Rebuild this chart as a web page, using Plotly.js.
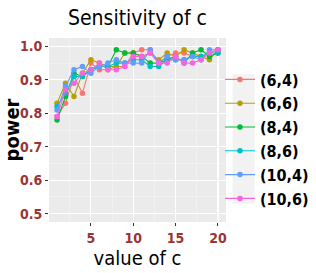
<!DOCTYPE html>
<html>
<head>
<meta charset="utf-8">
<script src="https://cdn.plot.ly/plotly-3.0.1.min.js"></script>
<style>html,body{margin:0;padding:0;background:#fff;}#chart{width:316px;height:273px;}</style>
</head>
<body>
<div id="chart"></div>
<script>
const cValues = [1,2,3,4,5,6,7,8,9,10,11,12,13,14,15,16,17,18,19,20];
const seriesNames = ["(6,4)","(6,6)","(8,4)","(8,6)","(10,4)","(10,6)"];
const seriesColors = ["#F8766D","#B79F00","#00BA38","#00BFC4","#619CFF","#F564E3"];
const power_6_4  = [0.79,0.83,0.91,0.86,0.95,0.93,0.93,0.94,0.94,0.98,0.99,0.99,0.95,0.97,0.98,0.98,0.97,0.97,0.98,0.99];
const power_6_6  = [0.83,0.89,0.85,0.92,0.96,0.95,0.94,0.94,0.98,0.98,0.97,0.98,0.96,0.98,0.97,0.99,0.98,0.97,0.96,0.99];
const power_8_4  = [0.78,0.85,0.92,0.91,0.93,0.94,0.94,0.99,0.98,0.98,0.97,0.95,0.95,0.96,0.97,0.95,0.98,0.99,0.97,0.98];
const power_8_6  = [0.82,0.86,0.91,0.91,0.93,0.94,0.94,0.95,0.95,0.96,0.96,0.94,0.94,0.96,0.96,0.96,0.97,0.97,0.98,0.98];
const power_10_4 = [0.81,0.88,0.93,0.94,0.92,0.94,0.95,0.96,0.95,0.95,0.95,0.99,0.95,0.97,0.96,0.96,0.97,0.96,0.99,0.99];
const power_10_6 = [0.79,0.87,0.89,0.92,0.93,0.95,0.93,0.93,0.94,0.97,0.97,0.98,0.95,0.95,0.97,0.95,0.95,0.96,0.98,0.99];
const yTicks = [0.5,0.6,0.7,0.8,0.9,1.0];
const yTickText = ["0.5","0.6","0.7","0.8","0.9","1.0"];
const xTicks = [5,10,15,20];

const allSeries = [power_6_4,power_6_6,power_8_4,power_8_6,power_10_4,power_10_6];
const FONT = '"Liberation Sans Narrow","DejaVu Sans Condensed","Liberation Sans",sans-serif';
const tickColor = "#9B3535";

const traces = allSeries.map((ys,i)=>({
  x: cValues, y: ys, name: seriesNames[i], type: "scatter", mode: "lines+markers",
  line: {color: seriesColors[i], width: 1.1},
  marker: {color: seriesColors[i], size: 5.5}
}));

const layout = {
  width: 316, height: 273,
  margin: {l: 49, r: 90, t: 38, b: 51, autoexpand: false},
  paper_bgcolor: "#ffffff",
  plot_bgcolor: "#EBEBEB",
  font: {family: FONT},
  title: {text: "Sensitivity of c", font: {family: FONT, size: 21, color: "#000"}, x: 0.435, xanchor: "center", y: 0.935, yanchor: "middle"},
  xaxis: {
    range: [0.05, 20.95], tickvals: xTicks, ticktext: xTicks.map(String),
    showgrid: true, gridcolor: "#ffffff", gridwidth: 1.1, zeroline: false,
    ticks: "outside", ticklen: 3, tickwidth: 1, tickcolor: "#333333",
    tickfont: {family: FONT, size: 14, color: tickColor, weight: "bold"},
    minor: {dtick: 5, tick0: 2.5, showgrid: true, gridcolor: "#F5F5F5", gridwidth: 0.6, ticks: ""},
    title: {text: "value of c", font: {family: FONT, size: 20, color: "#000"}, standoff: 2},
    showline: false
  },
  yaxis: {
    range: [0.475, 1.025], tickvals: yTicks, ticktext: yTickText,
    showgrid: true, gridcolor: "#ffffff", gridwidth: 1.1, zeroline: false,
    ticks: "outside", ticklen: 3, tickwidth: 1, tickcolor: "#333333",
    tickfont: {family: FONT, size: 14, color: tickColor, weight: "bold"},
    minor: {dtick: 0.1, tick0: 0.55, showgrid: true, gridcolor: "#F5F5F5", gridwidth: 0.6, ticks: ""},
    title: {text: "power", font: {family: FONT, size: 20, color: "#000", weight: "bold"}, standoff: 6},
    showline: false
  },
  legend: {
    x: 0.966, xanchor: "left", y: 0.451, yanchor: "middle",
    bgcolor: "rgba(0,0,0,0)", borderwidth: 0,
    font: {family: FONT, size: 16, color: "#000", weight: "bold"},
    itemwidth: 30, tracegroupgap: 0
  },
  shapes: [{type: "rect", xref: "paper", yref: "paper", x0: 1.04, x1: 1.158, y0: 0.103, y1: 0.80, fillcolor: "#F2F2F2", line: {color: "#F2F2F2", width: 1}, layer: "above"}],
  showlegend: true
};
Plotly.newPlot("chart", traces, layout, {displayModeBar: false, staticPlot: true});
</script>
</body>
</html>
